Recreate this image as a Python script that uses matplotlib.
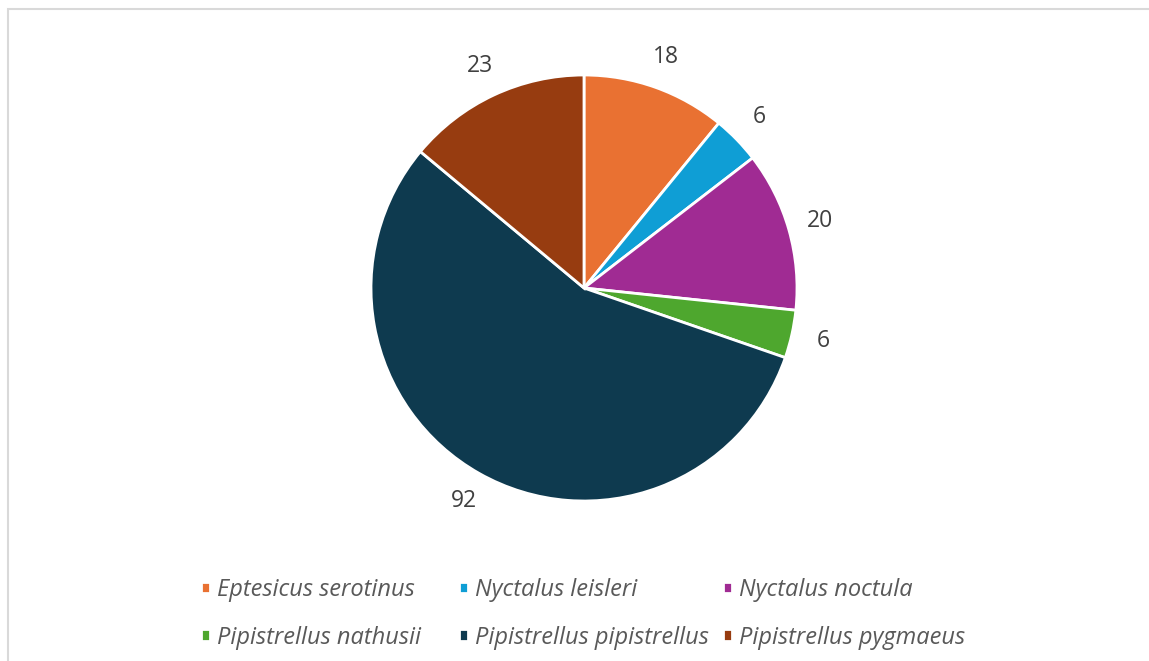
import matplotlib
matplotlib.use('Agg')
import matplotlib.pyplot as plt
from matplotlib.patches import Rectangle

plt.rcParams['font.family'] = ['Open Sans', 'DejaVu Sans']

species = ['Eptesicus serotinus', 'Nyctalus leisleri', 'Nyctalus noctula',
           'Pipistrellus nathusii', 'Pipistrellus pipistrellus', 'Pipistrellus pygmaeus']
counts = [18, 6, 20, 6, 92, 23]
colors = ['#E97132', '#0F9ED5', '#A02B93', '#4EA72E', '#0E3A4F', '#973C10']

total = sum(counts)

fig = plt.figure(figsize=(11.49, 6.61), dpi=100)

# light grey chart-area frame, cut off at right and bottom
fig.patches.append(Rectangle((8 / 1149, -0.1), 1.2, 1.1 - 9.5 / 661,
                             transform=fig.transFigure, fill=False,
                             edgecolor='#D9D9D9', linewidth=1.5))

ax = fig.add_axes([371 / 1149, 160 / 661, 426 / 1149, 426 / 661])
wedges, texts, autotexts = ax.pie(
    counts,
    colors=colors,
    startangle=90,
    counterclock=False,
    radius=1.0,
    autopct=lambda p: '{:.0f}'.format(p * total / 100),
    pctdistance=1.15,
    wedgeprops=dict(edgecolor='white', linewidth=2),
    textprops=dict(color='#404040', fontsize=16.5),
)
ax.set_xlim(-1, 1)
ax.set_ylim(-1, 1)

# legend laid out row by row like the original, one legend per column
col_x = [201 / 1149, 459 / 1149, 723 / 1149]
for i in range(3):
    leg = fig.legend([wedges[i], wedges[i + 3]], [species[i], species[i + 3]],
                     loc='upper left', bbox_to_anchor=(col_x[i], 1 - 578 / 661),
                     frameon=False, ncol=1,
                     prop=dict(style='italic', size=17),
                     labelcolor='#595959',
                     handlelength=0.36, handleheight=0.36,
                     handletextpad=0.3, labelspacing=1.0,
                     borderpad=0, borderaxespad=0)

plt.savefig('out.png', dpi=100)
